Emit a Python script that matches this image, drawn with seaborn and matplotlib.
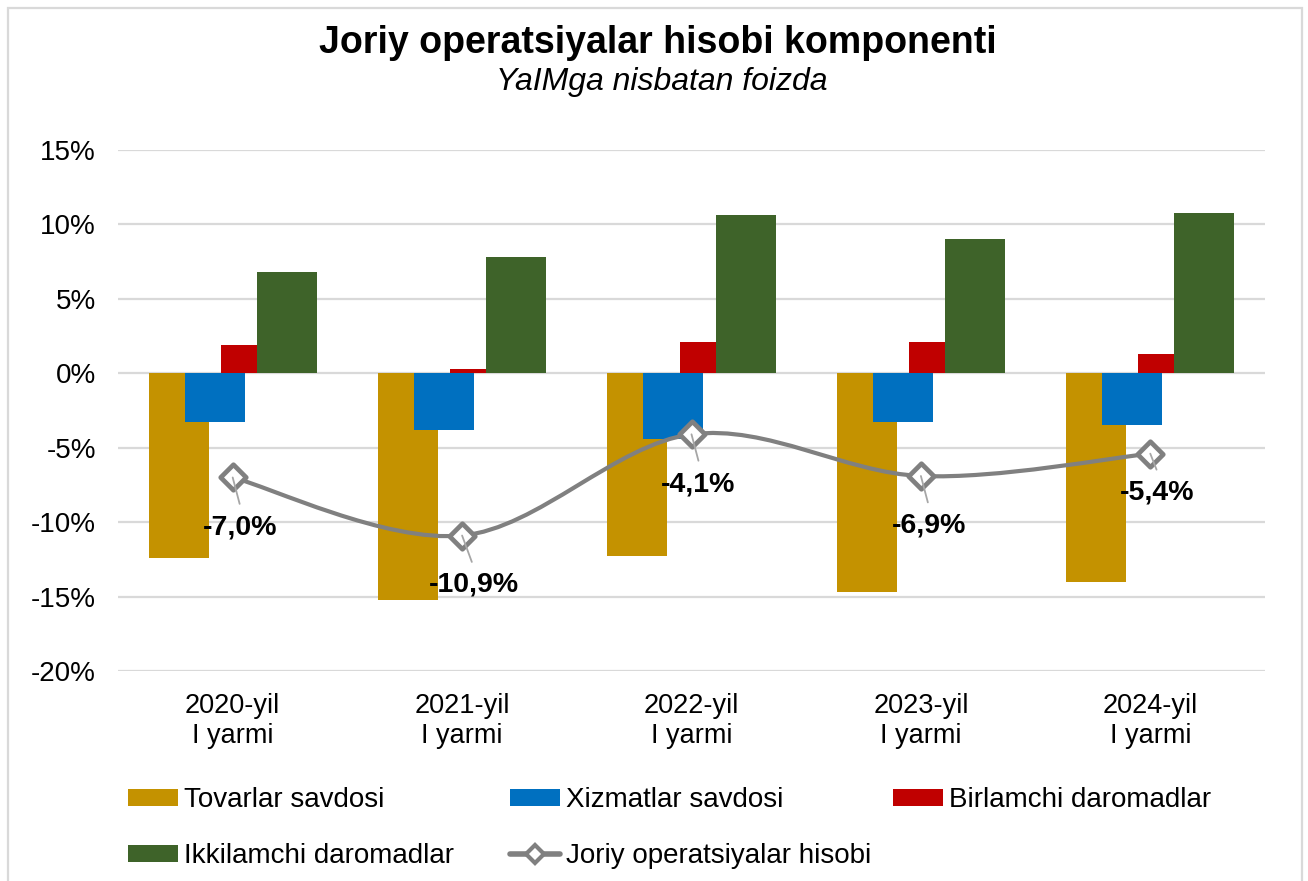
import numpy as np
import pandas as pd
import matplotlib
matplotlib.use("Agg")
import matplotlib.pyplot as plt
import seaborn as sns
from matplotlib.path import Path
from matplotlib.patches import PathPatch, Patch, Rectangle
from matplotlib.lines import Line2D
from matplotlib.ticker import FuncFormatter, MultipleLocator

# ---------------- data ----------------
categories = ["2020-yil\nI yarmi", "2021-yil\nI yarmi", "2022-yil\nI yarmi",
              "2023-yil\nI yarmi", "2024-yil\nI yarmi"]
series_names = ["Tovarlar savdosi", "Xizmatlar savdosi",
                "Birlamchi daromadlar", "Ikkilamchi daromadlar"]
tovarlar = [-12.4, -15.2, -12.3, -14.7, -14.0]
xizmatlar = [-3.3, -3.8, -4.4, -3.3, -3.5]
birlamchi = [1.9, 0.3, 2.1, 2.1, 1.3]
ikkilamchi = [6.8, 7.8, 10.6, 9.0, 10.8]
line_name = "Joriy operatsiyalar hisobi"
joriy = [-7.0, -10.9, -4.1, -6.9, -5.4]

title = "Joriy operatsiyalar hisobi komponenti"
subtitle = "YaIMga nisbatan foizda"

# ---------------- style ----------------
colors = ["#C49200", "#0070C0", "#C00000", "#3E6329"]
line_color = "#808080"
W, H = 1308, 881

sns.set_theme(style="white")
plt.rcParams["font.family"] = ["Liberation Sans", "DejaVu Sans"]
plt.rcParams["text.color"] = "black"

fig = plt.figure(figsize=(W / 100, H / 100), dpi=100)
ax = fig.add_axes([118 / W, 1 - 671 / H, (1265 - 118) / W, (671 - 150) / H])

df = pd.DataFrame({
    "category": np.repeat(categories, len(series_names)),
    "series": series_names * len(categories),
    "value": np.column_stack([tovarlar, xizmatlar, birlamchi, ikkilamchi]).ravel(),
})

sns.barplot(data=df, x="category", y="value", hue="series", order=categories,
            hue_order=series_names, palette=colors, saturation=1, errorbar=None,
            dodge=True, ax=ax, legend=False, linewidth=0)

# Excel style overlapping bars
bar_w = 0.2615
step = 0.157
for k, cont in enumerate(ax.containers):
    off = (k - 1.5) * step
    for j, patch in enumerate(cont.patches):
        patch.set_x(j + off - bar_w / 2)
        patch.set_width(bar_w)
        patch.set_zorder(2 + k * 0.1)

# smooth line (Bezier, Catmull-Rom style)
n = len(joriy)
pts = np.column_stack([np.arange(n, dtype=float), np.array(joriy, dtype=float)])
verts = [pts[0]]
codes = [Path.MOVETO]
for i in range(n - 1):
    p0 = pts[i - 1] if i > 0 else pts[i]
    p1 = pts[i]
    p2 = pts[i + 1]
    p3 = pts[i + 2] if i + 2 < n else pts[i + 1]
    c1 = p1 + (p2 - p0) / 6.0
    c2 = p2 - (p3 - p1) / 6.0
    verts += [c1, c2, p2]
    codes += [Path.CURVE4] * 3
ax.add_patch(PathPatch(Path(verts, codes), facecolor="none", edgecolor=line_color,
                       lw=3.0, zorder=4, capstyle="round", joinstyle="round"))

sns.scatterplot(x=np.arange(n), y=joriy, marker="D", s=13 ** 2, color="white",
                edgecolor=line_color, linewidth=3.4, zorder=5, legend=False, ax=ax)

# data labels with leader lines
label_off = [(5, -36), (8.5, -35.5), (5, -36), (5.8, -35.5), (5, -28)]
leader_end = [(5, -19), (7, -19), (5, -19), (5, -19), (4.5, -11.5)]
for i, v in enumerate(joriy):
    ax.annotate("", xy=(i, v), xytext=leader_end[i], textcoords="offset points",
                arrowprops=dict(arrowstyle="-", color="#a6a6a6", lw=1.3,
                                shrinkA=0, shrinkB=0), zorder=6)
    ax.annotate(f"{v:.1f}%".replace(".", ","), xy=(i, v), xytext=label_off[i],
                textcoords="offset points", ha="center", va="center",
                fontsize=20.5, fontweight="bold", color="black", zorder=7)

# axes
ax.set_xlim(-0.5, n - 0.5)
ax.set_ylim(-20, 15)
ax.yaxis.set_major_locator(MultipleLocator(5))
ax.yaxis.set_major_formatter(FuncFormatter(lambda v, p: f"{v:.0f}%"))
ax.yaxis.grid(True, color="#d9d9d9", lw=1.6)
ax.xaxis.grid(False)
ax.set_axisbelow(True)
for s in ax.spines.values():
    s.set_visible(False)
ax.set_xlabel("")
ax.set_ylabel("")
ax.tick_params(axis="y", length=0, pad=16, labelsize=20, labelcolor="black")
ax.tick_params(axis="x", length=0, pad=16, labelsize=19.5, labelcolor="black")
for t in ax.get_xticklabels():
    t.set_linespacing(1.2)

# titles
fig.text(0.5027, 1 - 43 / H, title, ha="center", va="center", fontsize=27,
         fontweight="bold", color="black")
fig.text(0.5057, 1 - 82 / H, subtitle, ha="center", va="center", fontsize=23,
         fontstyle="italic", color="black")

# legend (three columns of equal width like Excel)
bar_handles = [Patch(facecolor=c, edgecolor="none") for c in colors]
line_handle = Line2D([0], [0], color=line_color, lw=4, marker="D", markersize=9,
                     mfc="white", mec=line_color, mew=3)
cols = [
    ([bar_handles[0], bar_handles[3]], [series_names[0], series_names[3]], 128),
    ([bar_handles[1], line_handle], [series_names[1], line_name], 510),
    ([bar_handles[2]], [series_names[2]], 893),
]
for hs, ls, xpx in cols:
    fig.legend(hs, ls, loc="upper left", bbox_to_anchor=(xpx / W, 1 - 787 / H),
               frameon=False, fontsize=20, borderpad=0, borderaxespad=0,
               handlelength=1.8, handleheight=0.57, handletextpad=0.22,
               labelspacing=1.08, labelcolor="black")

# outer border
fig.patches.append(Rectangle((8 / W, -0.05), (1302 - 8) / W, 1.05 - 8 / H,
                             transform=fig.transFigure, fill=False,
                             edgecolor="#d9d9d9", lw=1.6))

fig.savefig("out.png", dpi=100)
